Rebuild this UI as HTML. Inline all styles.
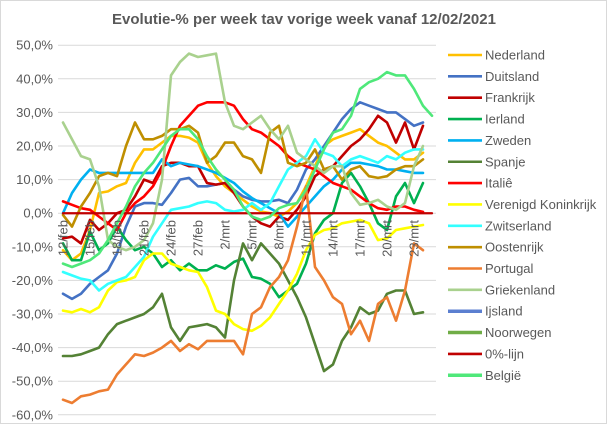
<!DOCTYPE html>
<html><head><meta charset="utf-8"><style>
html,body{margin:0;padding:0;background:#fff;}
svg{display:block;font-family:"Liberation Sans",sans-serif;}
</style></head><body>
<svg id="chart" width="607" height="424" viewBox="0 0 607 424">
<rect x="0.5" y="0.5" width="606" height="423" fill="#fff" stroke="#d9d9d9"/>
<text x="304" y="24" text-anchor="middle" font-size="15" font-weight="bold" fill="#595959" textLength="384" lengthAdjust="spacingAndGlyphs">Evolutie-% per week tav vorige week vanaf 12/02/2021</text>
<g id="grid"></g><g id="yticks"></g><g id="series"></g><g id="xticks"></g><g id="legend"></g>
</svg>
<script>
const dates=["12/feb","13/feb","14/feb","15/feb","16/feb","17/feb","18/feb","19/feb","20/feb","21/feb","22/feb","23/feb","24/feb","25/feb","26/feb","27/feb","28/feb","1/mrt","2/mrt","3/mrt","4/mrt","5/mrt","6/mrt","7/mrt","8/mrt","9/mrt","10/mrt","11/mrt","12/mrt","13/mrt","14/mrt","15/mrt","16/mrt","17/mrt","18/mrt","19/mrt","20/mrt","21/mrt","22/mrt","23/mrt","24/mrt","25/mrt"];
const yTicks=[50,40,30,20,10,0,-10,-20,-30,-40,-50,-60];
const names=["Nederland","Duitsland","Frankrijk","Ierland","Zweden","Spanje","Italiê","Verenigd Koninkrijk","Zwitserland","Oostenrijk","Portugal","Griekenland","Ijsland","Noorwegen","0%-lijn","België"];
const colors=["#ffc000","#4472c4","#c00000","#00b050","#00b0f0","#548235","#ff0000","#ffff00","#33ffff","#bf8f00","#ed7d31","#a9d18e","#5b7fd0","#70ad47","#c00000","#4fe87a"];
const nederland=[-11,-14,-12,-5,6,6.5,8,9,15,19,19,21,23,23,22.5,21,15,11,8,6,4,2,0.5,0,-1,0.5,3,8,14,20,22,23,24,25,23,21,20,18,16,16,18];
const duitsland=[-24,-25.5,-24,-21,-19,-17,-12,-4,2,3,3,2.5,6,10,10.5,8,8,8.5,9,7,5,4,3.5,3.5,4,3,7,13,16,20,24,28,31,33,32,31,30,30,28,26,27];
const frankrijk=[-7.5,-7,-9,-2,-5,-3,0,1,5,10,9,14,15,15,14,14,9,8.5,9,6,2,-1,-3,-4,-1,-2,1,5,11,13,14,17,20,22,25,29,27,21,27,19,26];
const ierland=[-9,-14,-14,-5.5,-11,-9,-4,-8,-11,-10,-12,-16,-14,-17,-15,-17,-17,-15.5,-16.5,-14.5,-13.5,-19,-19.5,-21,-25,-23,-21,-15,-6,-2,0,9,12,8,3,-3,-5,5,9,3,9];
const zweden=[0,6,10,13,12,12,12,12,12,12,12,16,14,15,14.5,14,13,12,10.5,9,6.5,4.5,3,1.5,0,-4,-1,2,5,8,10,13,15,15,14.5,14,13,13,12.5,12,12];
const spanje=[-42.5,-42.5,-42,-41,-40,-36,-33,-32,-31,-30,-28,-24,-34,-38,-34,-33.5,-33,-34,-37,-20,-9,-14,-9,-12,-15,-20,-25,-31,-39,-47,-45,-38,-34,-28,-30,-29,-24,-23,-23,-30,-29.5];
const italie=[3.5,2.5,1.5,1,-1,-3,-5,0,3,5,8,13,20,26,29,32,33,33,33,32,28,25,24,22,20,17,15,14,13,11,9,8,7,5,3,1.5,1,2,2,1,0.4];
const vk=[-29,-29.5,-28.5,-29.5,-28,-23,-20.5,-20,-19,-14,-12,-12,-15,-16,-17,-17.5,-22,-29,-30,-33,-34.5,-35,-33.5,-31,-27,-23,-18,-11,-6.5,-5,-4.5,-3,-2.5,-2,-3,-8,-7.5,-5,-4.5,-4,-3.5];
const zwitserland=[-17.5,-18.5,-19.5,-20,-23,-21,-20,-19,-16,-13,-7,-3,1,1.5,2,3,3.5,3,1,0.5,1,3,1,3,8,13,15,17,22,18,17,14,16,17,16,15,17,16,18,19,19];
const oostenrijk=[-0.5,-4,2,6,11,12,11,20,27,22,22,23,25,25,26,24,15,17,21,21,17,16,12,24,26,15,14,15,19,13,14,10,13,14,11,10.5,11,13,14,14,16];
const portugal=[-55.5,-56.5,-54.5,-54,-53,-52.5,-48,-45,-42,-42.5,-41.5,-40,-38,-41,-39,-40.5,-38,-38,-38,-38,-42,-30,-28,-22,-19,-14,-4,8,-16,-20,-25,-27,-36,-32,-38,-27,-25,-32,-23,-9,-11];
const griekenland=[27,22,17,16,8,-8,-10,-11,-10,-8,-3,10,41,45,47.5,46.5,47,47.5,33,26,25,27,29,25,22,26,18,16,14,12,14,14,6,2.5,3,4,2,1,3,14,20];
const ijsland=[];
const noorwegen=[];
const nullijn=[0,0,0,0,0,0,0,0,0,0,0,0,0,0,0,0,0,0,0,0,0,0,0,0,0,0,0,0,0,0,0,0,0,0,0,0,0,0,0,0,0,0];
const belgie=[-15,-16,-15,-14,-12,-8,-3,2,8,12,15,19,23,25,25,22,17,13,10,7,2,-1,-2,-1,1.5,2.5,3,7,13,19,24,25,29,37,39,40,42,41,41,37,32,29];
const seriesData=[nederland,duitsland,frankrijk,ierland,zweden,spanje,italie,vk,zwitserland,oostenrijk,portugal,griekenland,ijsland,noorwegen,nullijn,belgie];

const NS="http://www.w3.org/2000/svg";
const X0=63,DX=9,Y0=213.2,PY=3.36;
function xs(i){return X0+i*DX;}
function ys(v){return Y0-v*PY;}
function mk(tag,attrs,parent){const e=document.createElementNS(NS,tag);for(const k in attrs)e.setAttribute(k,attrs[k]);parent.appendChild(e);return e;}
const grid=document.getElementById('grid'),yt=document.getElementById('yticks'),sg=document.getElementById('series'),xt=document.getElementById('xticks'),lg=document.getElementById('legend');
yTicks.forEach(v=>{
  const l=mk('line',{x1:58,x2:436,y1:ys(v),y2:ys(v),stroke:'#d9d9d9','stroke-width':1},grid);
  
  
  const t=mk('text',{x:53,y:ys(v)+4.5,'text-anchor':'end','font-size':13,fill:'#595959'},yt);
  t.textContent=v.toFixed(1).replace('.',',')+'%';
  
  
});
seriesData.forEach((d,s)=>{
  if(!d.length)return;
  const pts=d.map((v,i)=>xs(i).toFixed(1)+','+ys(v).toFixed(1)).join(' ');
  const p=mk('polyline',{points:pts,fill:'none',stroke:colors[s],'stroke-width':s===14?2.25:2.6,'stroke-linejoin':'round','stroke-linecap':'round'},sg);
  
  
});
dates.forEach((d,i)=>{
  if(i%3!==0||i>39)return;
  const x=xs(i)+4.5,y=220;
  const t=mk('text',{x:x,y:y,'text-anchor':'end','font-size':13,fill:'#595959',transform:'rotate(-90 '+x+' '+y+')'},xt);
  t.textContent=d;
  
  
});
names.forEach((n,s)=>{
  const y=55+s*21.35;
  const g=mk('g',{},lg);
  
  
  mk('line',{x1:448,x2:482,y1:y,y2:y,stroke:colors[s],'stroke-width':(s===12||s===13||s===15)?3.5:2.6},g);
  const t=mk('text',{x:485,y:y+4.5,'font-size':13,fill:'#595959'},g);
  t.textContent=n;
});
</script>
</body></html>
